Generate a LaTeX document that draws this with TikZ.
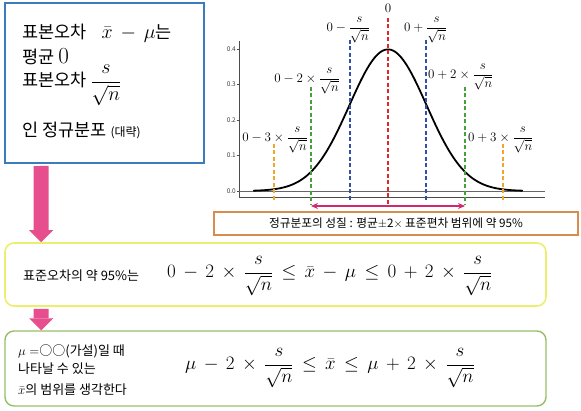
\RequirePackage{fix-cm}
\documentclass[tikz,border=0pt]{standalone}
\usepackage{amsmath}
\usepackage{fontspec}
\setmainfont{Noto Sans CJK KR}
\usepackage{tikz}
\usetikzlibrary{arrows.meta,positioning}

\definecolor{boxblue}{RGB}{58,124,190}
\definecolor{boxyellow}{RGB}{238,238,110}
\definecolor{boxgreen}{RGB}{150,190,100}
\definecolor{boxorange}{RGB}{215,140,80}
\definecolor{arrowpink}{RGB}{230,78,142}
\definecolor{rangepink}{RGB}{210,40,110}
\definecolor{sdred}{RGB}{225,40,40}
\definecolor{sdblue}{RGB}{50,80,165}
\definecolor{sdgreen}{RGB}{70,160,60}
\definecolor{sdorange}{RGB}{242,165,45}

% wider spacing round operators in the big formulas
\newcommand{\wideops}{\medmuskip=7mu\relax\thickmuskip=8mu\relax}

\begin{document}
\begin{tikzpicture}[
  x=1pt, y=-1pt,
  sumbox/.style={draw=boxblue, line width=2pt, minimum width=199pt, minimum height=160pt},
  yelbox/.style={draw=boxyellow, line width=1.6pt, rounded corners=9pt, minimum width=541pt, minimum height=63pt},
  grnbox/.style={draw=boxgreen, line width=1.4pt, rounded corners=9pt, minimum width=541pt, minimum height=75pt},
  notebox/.style={draw=boxorange, line width=1.2pt, minimum width=364pt, minimum height=23pt, inner sep=0pt},
  bigtxt/.style={inner sep=0pt, font=\fontsize{17.5}{20}\selectfont},
  midtxt/.style={inner sep=0pt, font=\fontsize{13}{15}\selectfont},
  eqn/.style={inner sep=0pt, font=\fontsize{19}{22}\selectfont},
  lbl/.style={inner sep=0pt, font=\fontsize{13}{15}\selectfont},
  tick/.style={inner sep=0pt, anchor=east, text=black!75, font=\fontsize{6.5}{7}\selectfont},
  sdline/.style={dash pattern=on 4pt off 2.5pt, line width=2pt},
  bigarrow/.style={draw=arrowpink, line width=15pt, -{Triangle[width=24pt,length=12pt,line width=0pt]}},
  rangearrow/.style={draw=rangepink, line width=1.5pt, {Stealth[length=7pt,width=6pt]}-{Stealth[length=7pt,width=6pt]}}
]
\useasboundingbox (0,0) rectangle (581,411);

% summary box
\node[sumbox] (sum) at (104.5,83) {};
\node[bigtxt, anchor=base west] (s1) at (22,39) {표본오차\hspace{15pt}{\fontsize{20}{22}\selectfont\wideops$\bar{x}-\mu$}는};
\node[bigtxt, anchor=base west] (s2) at (22,64) {평균 {\fontsize{23}{25}\selectfont$0$}};
\node[bigtxt, anchor=base west] (s3) at (22,87) {표본오차 {\fontsize{20}{22}\selectfont$\dfrac{s}{\sqrt{n}}$}};
\node[bigtxt, anchor=base west] (s4) at (22,137) {인 정규분포 {\fontsize{12}{14}\selectfont(대략)}};

% normal curve
\draw[black!70, line width=0.6pt] (239,41) -- (239,197) -- (545,197);
\draw[black!60, line width=0.6pt] (239,191) -- (545,191);
\foreach \v/\y in {0.0/191,0.1/155.5,0.2/120,0.3/84.5,0.4/49}{
  \draw[black!70, line width=0.5pt] (236.5,\y) -- (239,\y);
  \node[tick] at (236,\y) {\v};
}
\draw[line width=1.8pt] plot[domain=-3.5:3.5, samples=120, smooth] ({388+38.5*\x}, {191-141.6*exp(-0.5*\x*\x)});

% sigma lines
\draw[sdline, sdorange] (274,144) -- (274,202);
\draw[sdline, sdgreen] (311,87) -- (311,205);
\draw[sdline, sdblue] (350,40) -- (350,202);
\draw[sdline, sdred] (388,18) -- (388,205);
\draw[sdline, sdblue] (426,40) -- (426,202);
\draw[sdline, sdgreen] (465,87) -- (465,205);
\draw[sdline, sdorange] (503,144) -- (503,202);

\node[lbl] (l0) at (388,8) {$0$};
\node[lbl, anchor=east] (lm1) at (370,30) {$0-\dfrac{s}{\sqrt{n}}$};
\node[lbl, anchor=west] (lp1) at (404,30) {$0+\dfrac{s}{\sqrt{n}}$};
\node[lbl, anchor=east] (lm2) at (340,81) {$0-2\times\dfrac{s}{\sqrt{n}}$};
\node[lbl, anchor=west] (lp2) at (428,77) {$0+2\times\dfrac{s}{\sqrt{n}}$};
\node[lbl, anchor=east] (lm3) at (308,140) {$0-3\times\dfrac{s}{\sqrt{n}}$};
\node[lbl, anchor=west] (lp3) at (468,140) {$0+3\times\dfrac{s}{\sqrt{n}}$};

% 95% range
\coordinate (rl) at (311,206);
\coordinate (rr) at (465,206);
\draw[rangearrow] (rl) -- (rr);
\node[notebox] (note) at (396,223.5) {\fontsize{11.7}{14}\selectfont 정규분포의 성질 : 평균$\pm$2$\times$ 표준편차 범위에 약 95\%};

% standard error box
\node[yelbox] (se) at (275.5,274.5) {};
\node[midtxt, anchor=base west] (set) at (23,281) {표준오차의 약 95\%는};
\node[eqn, anchor=west] (seq) at (167,276) {\wideops$0-2\times\dfrac{s}{\sqrt{n}}\leq\bar{x}-\mu\leq 0+2\times\dfrac{s}{\sqrt{n}}$};

% hypothesis box
\node[grnbox] (hy) at (275.5,368.5) {};
\node[midtxt, anchor=base west] (h1) at (18,356) {$\mu=$○○(가설)일 때};
\node[midtxt, anchor=base west] (h2) at (18,374) {나타날 수 있는};
\node[midtxt, anchor=base west] (h3) at (18,395) {$\bar{x}$의 범위를 생각한다};
\node[eqn, anchor=west] (heq) at (185,368) {\wideops$\mu-2\times\dfrac{s}{\sqrt{n}}\leq\bar{x}\leq\mu+2\times\dfrac{s}{\sqrt{n}}$};

% block arrows
\draw[bigarrow] ([xshift=37pt,yshift=-2pt]sum.south west) -- ([xshift=37pt]se.north west);
\draw[bigarrow] ([xshift=37pt,yshift=-2pt]se.south west) -- ([xshift=37pt]hy.north west);
\end{tikzpicture}
\end{document}
